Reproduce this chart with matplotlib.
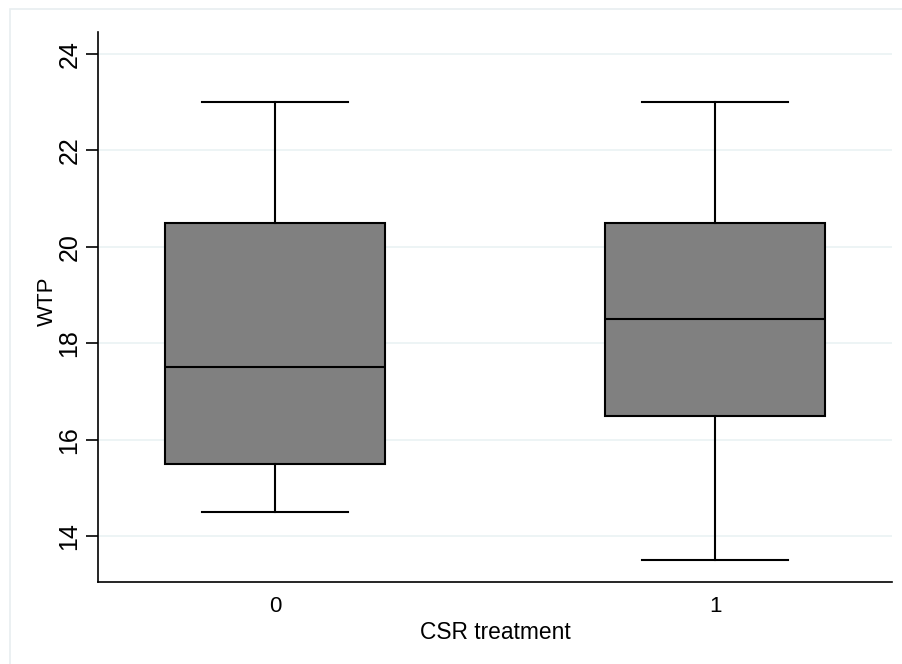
import matplotlib.pyplot as plt
from matplotlib.patches import Rectangle

plt.rcParams['font.family'] = ['Liberation Sans', 'DejaVu Sans']

# WTP box summaries by CSR treatment group
groups = [0, 1]
q1 = [15.5, 16.5]
medians = [17.5, 18.5]
q3 = [20.5, 20.5]
whislo = [14.5, 13.5]
whishi = [23.0, 23.0]
yticks = [14, 16, 18, 20, 22, 24]

stats = []
for g, lo, a, m, b, hi in zip(groups, whislo, q1, medians, q3, whishi):
    stats.append(dict(label=str(g), whislo=lo, q1=a, med=m, q3=b, whishi=hi, fliers=[]))

fig = plt.figure(figsize=(9.03, 6.64), dpi=100)
ax = fig.add_axes([98 / 903, 82 / 664, 794 / 903, 550 / 664])

# light outer frame of the graph region
fig.patches.append(Rectangle((10 / 903, -0.1), 1.2, (655 - (-66)) / 664,
                             transform=fig.transFigure, fill=False,
                             edgecolor='#e8eef0', linewidth=1.2))

lw = 1.5
ax.bxp(stats, positions=groups, widths=0.5, patch_artist=True,
       showfliers=False,
       boxprops=dict(facecolor='#808080', edgecolor='black', linewidth=lw),
       medianprops=dict(color='black', linewidth=lw),
       whiskerprops=dict(color='black', linewidth=lw),
       capprops=dict(color='black', linewidth=lw),
       capwidths=0.333)

ax.set_xlim(-0.402, 1.402)
ax.set_ylim(13.05, 24.45)
ax.set_yticks(yticks)
ax.set_yticklabels([str(t) for t in yticks], rotation=90, va='center')
ax.set_xticks(groups)
ax.set_xticklabels([str(g) for g in groups])

ax.grid(axis='y', color='#eaf2f3', linewidth=1.2)
ax.set_axisbelow(True)
for side in ['top', 'right']:
    ax.spines[side].set_visible(False)
for side in ['left', 'bottom']:
    ax.spines[side].set_linewidth(1.2)

ax.tick_params(axis='y', length=9, width=1.2, labelsize=18, pad=3)
ax.tick_params(axis='x', length=0, labelsize=16, pad=10)

ax.set_ylabel('WTP', fontsize=16)
ax.yaxis.set_label_coords(-0.051, 0.51)
ax.set_xlabel('CSR treatment', fontsize=16.4, labelpad=3)

fig.savefig('out.png', dpi=100, facecolor='white')
